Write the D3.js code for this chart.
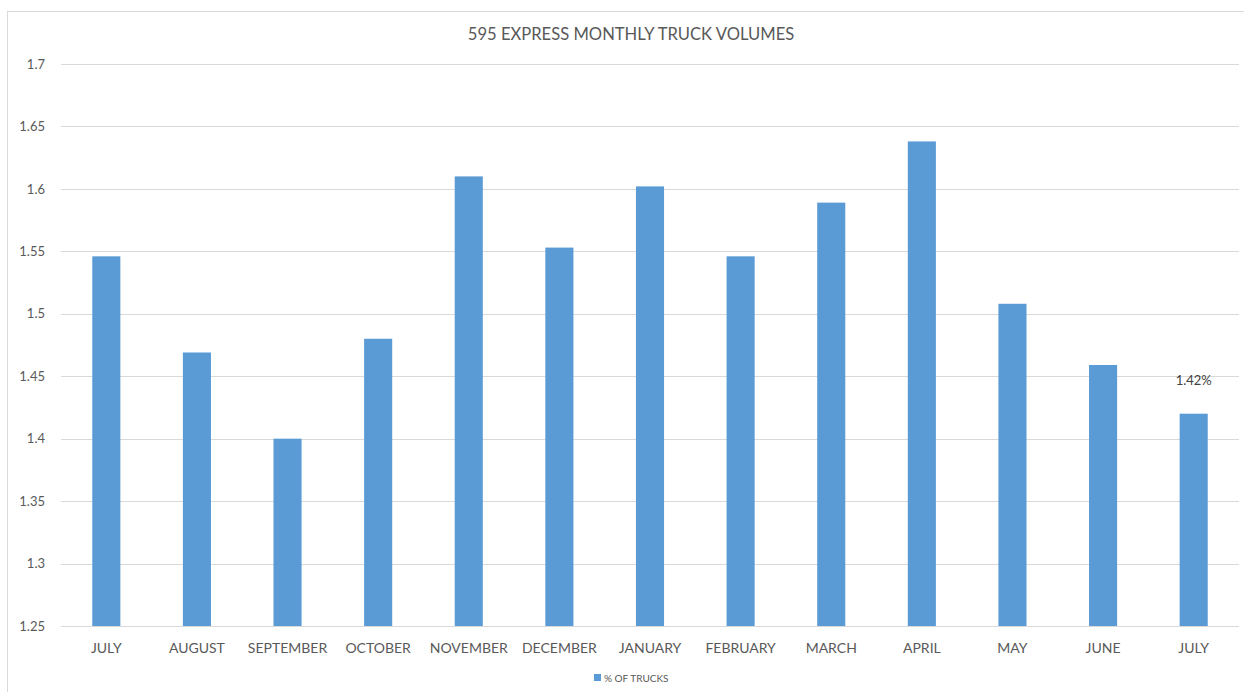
<!DOCTYPE html>
<html>
<head>
<meta charset="utf-8">
<script src="https://cdn.jsdelivr.net/npm/d3@7"></script>
<style>
  body { margin: 0; background: #fff; }
  text { font-family: Lato, "Open Sans", sans-serif; fill: #595959; }
</style>
</head>
<body>
<div id="chart"></div>
<script>
// monthly share of trucks on the 595 express lanes
var months = ["JULY", "AUGUST", "SEPTEMBER", "OCTOBER", "NOVEMBER", "DECEMBER", "JANUARY",
              "FEBRUARY", "MARCH", "APRIL", "MAY", "JUNE", "JULY"];
var truckPct = [1.546, 1.469, 1.400, 1.480, 1.610, 1.553, 1.602, 1.546, 1.589, 1.638, 1.508, 1.459, 1.420];
var yTicks = [1.25, 1.3, 1.35, 1.4, 1.45, 1.5, 1.55, 1.6, 1.65, 1.7];
var seriesName = "% OF TRUCKS";
var lastLabel = "1.42%";

var W = 1244, H = 692;
var margin = { top: 64, right: 5, bottom: 66, left: 61 };
var width = W - margin.left - margin.right;
var height = H - margin.top - margin.bottom;

var svg = d3.select("#chart").append("svg")
    .attr("width", W)
    .attr("height", H);

// chart border
svg.append("rect")
    .attr("x", 7.5).attr("y", 11.5)
    .attr("width", W).attr("height", H)
    .attr("fill", "none")
    .attr("stroke", "#d9d9d9");

svg.append("text")
    .attr("x", 631).attr("y", 40)
    .attr("text-anchor", "middle")
    .style("font-size", "16.6px")
    .text("595 EXPRESS MONTHLY TRUCK VOLUMES");

var g = svg.append("g")
    .attr("transform", "translate(" + margin.left + "," + margin.top + ")");

var x = d3.scaleBand()
    .domain(d3.range(months.length))
    .range([0, width])
    .paddingInner(0.69)
    .paddingOuter(0.345);

var y = d3.scaleLinear()
    .domain([1.25, 1.7])
    .range([height, 0]);

// gridlines
g.selectAll(".grid")
    .data(yTicks)
    .enter()
    .append("line")
    .attr("x1", 0).attr("x2", width)
    .attr("y1", function (d) { return Math.round(y(d)) + 0.5; })
    .attr("y2", function (d) { return Math.round(y(d)) + 0.5; })
    .attr("stroke", "#d9d9d9");

// y labels
var yAxis = d3.axisLeft(y).tickValues(yTicks).tickSize(0).tickPadding(16)
    .tickFormat(function (d) { return String(+d.toFixed(2)); });
var ya = g.append("g").call(yAxis);
ya.select(".domain").remove();
ya.selectAll("text").style("font-size", "13px").attr("fill", "#595959");

// x labels
var xAxis = d3.axisBottom(x).tickSize(0).tickPadding(17)
    .tickFormat(function (i) { return months[i]; });
var xa = g.append("g").attr("transform", "translate(0," + height + ")").call(xAxis);
xa.select(".domain").remove();
xa.selectAll("text").style("font-size", "14px").attr("fill", "#595959");

// bars
g.selectAll(".bar")
    .data(truckPct)
    .enter()
    .append("rect")
    .attr("class", "bar")
    .attr("x", function (d, i) { return x(i); })
    .attr("width", x.bandwidth())
    .attr("y", function (d) { return y(d); })
    .attr("height", function (d) { return height - y(d); })
    .attr("fill", "#5b9bd5");

// data label on last bar
var li = truckPct.length - 1;
g.append("text")
    .attr("x", x(li) + x.bandwidth() / 2)
    .attr("y", y(truckPct[li]) - 29)
    .attr("text-anchor", "middle")
    .style("font-size", "13px")
    .style("fill", "#404040")
    .text(lastLabel);

// legend
var lg = svg.append("g").attr("transform", "translate(594,674)");
lg.append("rect").attr("width", 7).attr("height", 7).attr("fill", "#5b9bd5");
lg.append("text").attr("x", 10).attr("y", 7.5)
    .style("font-size", "10px")
    .text(seriesName);
</script>
</body>
</html>
